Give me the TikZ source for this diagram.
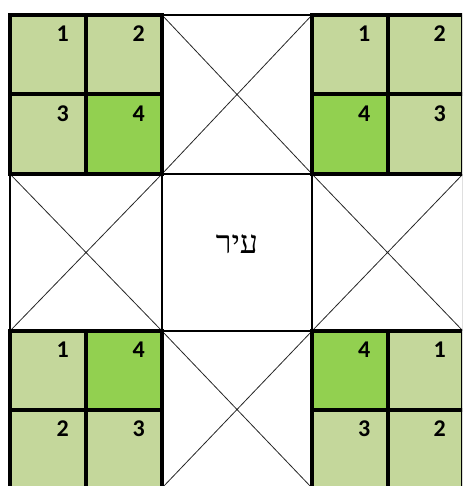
\documentclass[tikz,border=0pt]{standalone}
\usepackage{fontspec}
\setmainfont{Carlito}
\newfontfamily\hebfont[Script=Hebrew]{Liberation Serif}
\TeXXeTstate=1
\definecolor{lightgr}{HTML}{C4D79B}
\definecolor{brightgr}{HTML}{92D050}
\begin{document}
\begin{tikzpicture}[x=1pt,y=-1pt,
  num/.style={anchor=north east,inner sep=0pt,font=\fontsize{24}{24}\selectfont\bfseries},
  thickline/.style={line width=4pt,line cap=rect},
  midline/.style={line width=2pt},
  diag/.style={line width=0.8pt,black!85}]
\useasboundingbox (0,0) rectangle (462,486);
\begin{scope}
\clip (0,0) rectangle (462,486);
% fills of corner blocks
\fill[lightgr] (10,15) rectangle (162,174);
\fill[lightgr] (312,15) rectangle (463,174);
\fill[lightgr] (10,331) rectangle (162,488);
\fill[lightgr] (312,331) rectangle (463,488);
\fill[brightgr] (86,94.5) rectangle (162,174);
\fill[brightgr] (312,94.5) rectangle (387.5,174);
\fill[brightgr] (86,331) rectangle (162,409.5);
\fill[brightgr] (312,331) rectangle (387.5,409.5);
% crossed cells
\draw[diag] (162,15) -- (312,174) (312,15) -- (162,174);
\draw[diag] (10,174) -- (162,331) (162,174) -- (10,331);
\draw[diag] (312,174) -- (463,331) (463,174) -- (312,331);
\draw[diag] (162,331) -- (312,488) (312,331) -- (162,488);
% thin borders
\draw[midline] (162,15) -- (312,15);
\draw[midline] (162,488) -- (312,488);
\draw[midline] (10,174) -- (10,331);
\draw[midline] (463,174) -- (463,331);
\draw[midline] (162,174) rectangle (312,331);
% thick borders of corner blocks
\foreach \xa/\xm/\xb in {10/86/162, 312/387.5/463}
  \foreach \ya/\ym/\yb in {15/94.5/174, 331/409.5/488}{
    \draw[thickline] (\xa,\ya) rectangle (\xb,\yb);
    \draw[thickline] (\xm,\ya) -- (\xm,\yb) (\xa,\ym) -- (\xb,\ym);
  }
% numbers: top-left block
\node[num] (tl1) at (69,26) {1};
\node[num] (tl2) at (145,26) {2};
\node[num] (tl3) at (69,105.5) {3};
\node[num] (tl4) at (145,105.5) {4};
% top-right block
\node[num] (tr1) at (370.5,26) {1};
\node[num] (tr2) at (446,26) {2};
\node[num] (tr4) at (370.5,105.5) {4};
\node[num] (tr3) at (446,105.5) {3};
% bottom-left block
\node[num] (bl1) at (69,342) {1};
\node[num] (bl4) at (145,342) {4};
\node[num] (bl2) at (69,420.5) {2};
\node[num] (bl3) at (145,420.5) {3};
% bottom-right block
\node[num] (br4) at (370.5,342) {4};
\node[num] (br1) at (446,342) {1};
\node[num] (br3) at (370.5,420.5) {3};
\node[num] (br2) at (446,420.5) {2};
% center text
\node[inner sep=0pt,font=\fontsize{32}{32}\selectfont] (city) at (237,244) {\hebfont\beginR עיר\endR};
\end{scope}
\end{tikzpicture}
\end{document}
